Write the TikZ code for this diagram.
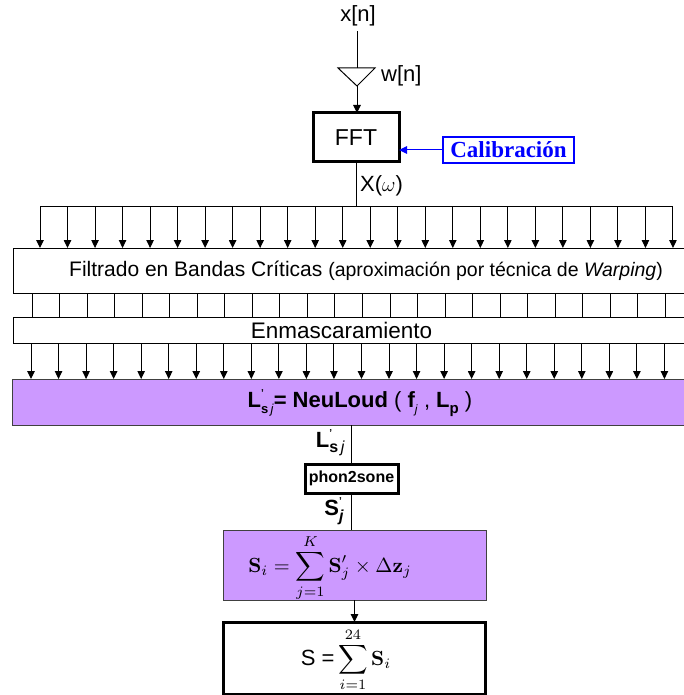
\documentclass[tikz,border=0pt]{standalone}
\usepackage{amsmath}
\usepackage{graphicx}
\usepackage[no-math]{fontspec}
\setmainfont{Liberation Sans}
\newfontfamily\calfont{Liberation Serif}
\usetikzlibrary{arrows.meta}
\definecolor{lila}{RGB}{204,153,255}
\definecolor{calblue}{RGB}{0,0,255}
\newcommand{\fs}[1]{\fontsize{#1}{#1}\selectfont}
\newcommand{\Lsj}[1]{\textbf{L}\makebox[0pt][l]{\raisebox{0.95ex}{\fs{10}\textbf{'}}}\raisebox{-0.45ex}{\fs{#1}\textbf{s}\,\textit{j}}}
\begin{document}
\begin{tikzpicture}[x=1pt,y=-1pt,
  arr/.style={-{Triangle[length=8pt,width=7.5pt]}, line width=1pt},
  ln/.style={line width=1pt},
  box/.style={draw, line width=1pt, inner sep=0pt, outer sep=0pt, anchor=north west},
  thickbox/.style={box, line width=3pt},
  purplebox/.style={box, fill=lila, draw=black!75},
  lbl/.style={inner sep=0pt},
]
\useasboundingbox (0,0) rectangle (683,695);

% top part
\node[lbl, font=\fs{22}] (xn) at (358,16) {x[n]};
\coordinate (tritop) at (357,68);
\coordinate (tri1) at (338,68);
\coordinate (tri2) at (375,68);
\coordinate (apex) at (357,86);
\draw[ln] (xn.south -| tritop) ++(0,5) -- (tritop);
\draw[ln] (tri1) -- (tri2) -- (apex) -- cycle;
\node[lbl, anchor=west, font=\fs{22}] (wn) at (381,76) {w[n]};

\node[thickbox, minimum width=86pt, minimum height=49pt, font=\fs{23}] (fft) at (313,113) {FFT};
\draw[arr] (apex) -- (apex |- fft.north);

\node[box, draw=calblue, line width=2pt, text=calblue, font=\calfont\bfseries\fs{23},
      minimum width=131pt, minimum height=26pt] (cal) at (443,137) {Calibración};
\draw[arr, calblue] (cal.west) -- (cal.west -| fft.east);

\coordinate (busL) at (40,206);
\coordinate (busR) at (673,206);
\draw[ln] (fft.south) -- (fft.south |- busL);
\draw[ln] (busL) -- (busR);
\node[lbl, anchor=west, font=\fs{22}] (xw) at (360,186) {X($\omega$)};

% band boxes
\node[box, minimum width=690pt, minimum height=45pt] (filt) at (13,248) {};
\node[lbl, font=\fs{21}] (filttxt) at (366,271) {Filtrado en Bandas Críticas {\fs{19.5}(aproximación por técnica de \textit{Warping})}};
\node[box, minimum width=690pt, minimum height=26pt] (enm) at (13,317) {};
\node[lbl, font=\fs{22.5}] (enmtxt) at (341.5,330) {Enmascaramiento};
\node[purplebox, minimum width=690pt, minimum height=46pt] (neu) at (12,379) {};
\node[lbl, font=\fs{22}] (neutxt) at (360,403) {\Lsj{13}\textbf{= NeuLoud} ( \textbf{f}\raisebox{-0.45ex}{\fs{12}\textit{j}} , \textbf{L}\raisebox{-0.45ex}{\fs{15}\textbf{p}} )};

\foreach \i in {0,...,23} {
  \coordinate (a\i) at ({40+27.52*\i},206);
  \draw[arr] (a\i) -- (a\i |- filt.north);
  \coordinate (b\i) at ({32+27.54*\i},293);
  \draw[ln] (b\i |- filt.south) -- (b\i |- enm.north);
  \coordinate (c\i) at ({31+27.54*\i},343);
  \draw[arr] (c\i |- enm.south) -- (c\i |- neu.north);
}

% lower chain
\node[thickbox, minimum width=93pt, minimum height=29pt, font=\bfseries\fs{16}] (phon) at (305,464) {phon2sone};
\draw[ln] (phon.north) -- (phon.north |- neu.south);
\node[lbl, anchor=east, font=\fs{22}] (lsjl) at (345,443) {\Lsj{16}};

\node[purplebox, minimum width=263pt, minimum height=70pt] (sum1) at (223,530) {};
\draw[ln] (phon.south) -- (phon.south |- sum1.north);
\node[lbl, anchor=east, font=\fs{22}] (sjl) at (344,511) {\textbf{S}\makebox[0pt][l]{\raisebox{0.95ex}{\fs{10}\textbf{'}}}\raisebox{-0.5ex}{\fs{16}\textbf{\textit{j}}}};
\node[lbl] (sum1txt) at (330,568) {\scalebox{2.05}{\normalsize$\mathbf{S}_i = \displaystyle\sum_{j=1}^{K}\mathbf{S}'_j \times \Delta\mathbf{z}_j$}};

\node[thickbox, minimum width=262pt, minimum height=72pt] (fin) at (223,622) {};
\draw[arr] (sum1.south) -- (sum1.south |- fin.north);
\node[lbl, font=\fs{22}] (fintxt) at (346,660) {S =\,\scalebox{2.05}{\normalsize$\displaystyle\sum_{i=1}^{24}\mathbf{S}_i$}};
\end{tikzpicture}
\end{document}
